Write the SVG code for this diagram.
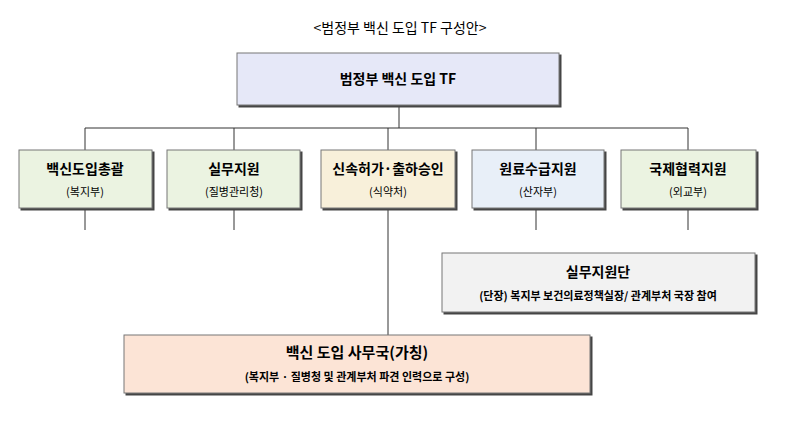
<svg xmlns="http://www.w3.org/2000/svg" width="800" height="421" viewBox="0 0 800 421">
<style>
text{font-family:"Noto Sans CJK KR","Noto Sans",sans-serif;fill:#000;text-anchor:middle}
.b{stroke:#777;stroke-width:1}
.t{font-size:14px;font-weight:bold}
.s{font-size:11px}
.ln{stroke:#333;stroke-width:1;fill:none}
</style>
<defs><filter id="sh" x="-5%" y="-5%" width="115%" height="130%"><feDropShadow dx="2" dy="2" stdDeviation="0" flood-color="#444"/></filter></defs>
<rect width="800" height="421" fill="#fff"/>
<text x="400" y="33" font-size="14">&lt;범정부 백신 도입 TF 구성안&gt;</text>
<g id="connectors" class="ln">
<path d="M399 105V128M85 128H688M85 128V150M234 128V150M388 128V150M536 128V150M688 128V150"/>
<path d="M85 208V230M234 208V230M536 208V230M688 208V230M388 208V335"/>
</g>
<g id="top"><rect x="237" y="53" width="322" height="52" fill="#e6e8f8" class="b" filter="url(#sh)"/><text x="398" y="84" class="t">범정부 백신 도입 TF</text></g>
<g id="n1"><rect x="19" y="150" width="133" height="58" fill="#ebf3e1" class="b" filter="url(#sh)"/><text x="85" y="174" class="t">백신도입총괄</text><text x="85" y="196" class="s">(복지부)</text></g>
<g id="n2"><rect x="167" y="150" width="133" height="58" fill="#ebf3e1" class="b" filter="url(#sh)"/><text x="234" y="174" class="t">실무지원</text><text x="234" y="196" class="s">(질병관리청)</text></g>
<g id="n3"><rect x="321" y="150" width="134" height="58" fill="#f8f0da" class="b" filter="url(#sh)"/><text x="388" y="174" class="t">신속허가·출하승인</text><text x="388" y="196" class="s">(식약처)</text></g>
<g id="n4"><rect x="472" y="150" width="132" height="58" fill="#e8eff8" class="b" filter="url(#sh)"/><text x="538" y="174" class="t">원료수급지원</text><text x="538" y="196" class="s">(산자부)</text></g>
<g id="n5"><rect x="621" y="150" width="135" height="58" fill="#ebf3e1" class="b" filter="url(#sh)"/><text x="688" y="174" class="t">국제협력지원</text><text x="688" y="196" class="s">(외교부)</text></g>
<g id="sub"><rect x="442" y="253" width="313" height="59" fill="#f2f2f2" class="b" filter="url(#sh)"/><text x="598" y="277" class="t">실무지원단</text><text x="598" y="300" class="s" font-weight="bold">(단장) 복지부 보건의료정책실장/ 관계부처 국장 참여</text></g>
<g id="bottom"><rect x="124" y="335" width="466" height="58" fill="#fce4d6" class="b" filter="url(#sh)"/><text x="357" y="358" font-size="15" font-weight="bold">백신 도입 사무국(가칭)</text><text x="357" y="381" class="s" font-weight="bold">(복지부 · 질병청 및 관계부처 파견 인력으로 구성)</text></g>
</svg>
